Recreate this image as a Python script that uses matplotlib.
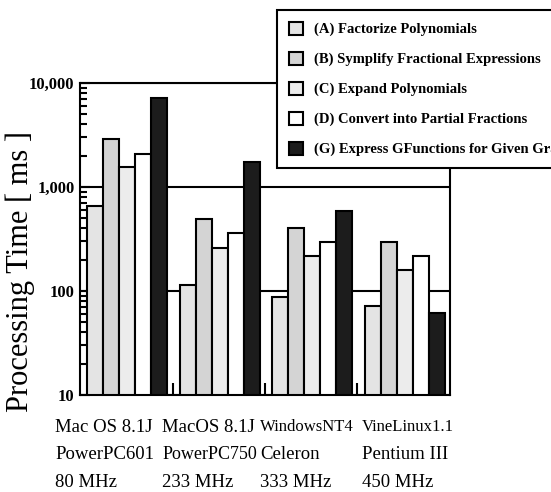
import matplotlib.pyplot as plt
import numpy as np
from matplotlib.ticker import NullFormatter
import matplotlib.transforms as mtransforms

# Processing time [ms] per machine, one list per task (log scale)
os_names = ["Mac OS 8.1J", "MacOS 8.1J", "WindowsNT4", "VineLinux1.1"]
cpu_names = ["PowerPC601", "PowerPC750", "Celeron", "Pentium III"]
clocks = ["80 MHz", "233 MHz", "333 MHz", "450 MHz"]
tasks = [
    "(A) Factorize Polynomials",
    "(B) Symplify Fractional Expressions",
    "(C) Expand Polynomials",
    "(D) Convert into Partial Fractions",
    "(G) Express GFunctions for Given Graphs",
]
time_a = [650, 115, 88, 72]
time_b = [2900, 490, 400, 295]
time_c = [1550, 260, 218, 158]
time_d = [2080, 360, 295, 218]
time_g = [7200, 1740, 590, 61]
series = [time_a, time_b, time_c, time_d, time_g]

colors = ["#e4e4e4", "#d4d4d4", "#ececec", "#ffffff", "#1c1c1c"]
label_x = [-0.27, 0.89, 1.95, 3.05]
line_y = [-0.103, -0.192, -0.279]
# the scan squeezes a few words, so they get a smaller size
size_override = {"WindowsNT4": 12, "VineLinux1.1": 12, "PowerPC750": 13}

plt.rcParams['font.family'] = ['Liberation Serif', 'DejaVu Serif']

fig = plt.figure(figsize=(5.51, 4.92), dpi=100)
ax = fig.add_axes([80 / 551, 1 - 395 / 492, 370 / 551, 312 / 492])

bar_w = 0.173
start = 0.08
x = np.arange(len(os_names))
for k, (vals, col, lab) in enumerate(zip(series, colors, tasks)):
    ax.bar(x + start + k * bar_w, vals, width=bar_w, align='edge',
           color=col, edgecolor='black', linewidth=1.5, label=lab, zorder=2)

ax.set_yscale('log')
ax.set_ylim(10, 10000)
ax.set_xlim(0, len(os_names))

ax.set_yticks([10, 100, 1000, 10000])
ax.set_yticklabels(["10", "100", "1,000", "10,000"], fontsize=12, fontweight='bold')
ax.yaxis.set_minor_formatter(NullFormatter())
ax.tick_params(axis='y', which='both', direction='in', width=1.5, pad=4,
               right=False)
ax.tick_params(axis='y', which='major', length=7)
ax.tick_params(axis='y', which='minor', length=5)

ax.set_xticks([1, 2, 3])
ax.set_xticklabels([])
ax.tick_params(axis='x', which='both', direction='in', length=9, width=1.5)

ax.yaxis.grid(True, which='major', color='black', linewidth=1.5)
ax.set_axisbelow(True)
for s in ax.spines.values():
    s.set_linewidth(1.5)

trans = mtransforms.blended_transform_factory(ax.transData, ax.transAxes)
for lx, lines in zip(label_x, zip(os_names, cpu_names, clocks)):
    for ly, txt in zip(line_y, lines):
        ax.text(lx, ly, txt, transform=trans, ha='left', va='center',
                fontsize=size_override.get(txt, 13.5))

fig.text(20 / 551, 1 - 271 / 492, "Processing Time [ ms ]", rotation=90,
         ha='center', va='center', fontsize=22)

leg = ax.legend(loc='upper left', bbox_to_anchor=(277 / 551, 1 - 10 / 492),
                bbox_transform=fig.transFigure, borderaxespad=0,
                prop={'weight': 'bold', 'size': 10.5},
                handlelength=1.0, handleheight=1.0, handletextpad=0.75,
                labelspacing=1.05, borderpad=0.8, fancybox=False,
                framealpha=1, edgecolor='black')
leg.get_frame().set_linewidth(1.5)
leg.set_zorder(5)

fig.savefig("out.png", dpi=100)
